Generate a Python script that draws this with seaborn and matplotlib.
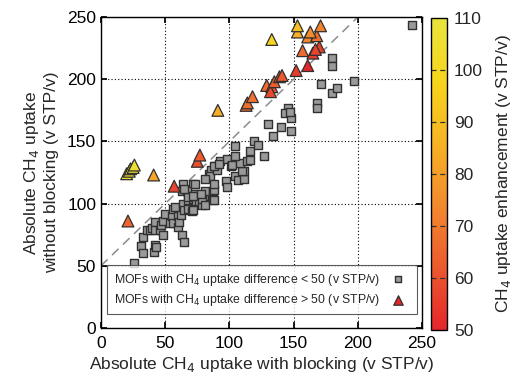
import numpy as np
import pandas as pd
import seaborn as sns
import matplotlib.pyplot as plt
from matplotlib.colors import LinearSegmentedColormap, Normalize
from matplotlib.cm import ScalarMappable

sns.set_theme(style="ticks")
plt.rcParams['font.family'] = ['Liberation Sans', 'DejaVu Sans']

# MOFs with uptake difference < 50 (squares)
sq_x = [26, 31, 33, 33, 36, 38, 40, 41, 42, 43, 42, 42, 46, 47, 48, 48, 50, 54, 55, 56,
        56, 58, 60, 60, 61, 62, 63, 65, 64, 65, 68, 71, 72, 68, 72, 74, 76, 80, 79, 80,
        79, 81, 87, 88, 64, 72, 63, 67, 73, 68, 72, 65, 81, 87, 88, 78, 73, 84, 86, 89,
        85, 88, 81, 93, 90, 88, 98, 92, 97, 98, 104, 107, 111, 111, 110, 101, 102, 108,
        114, 104, 104, 116, 119, 122, 127, 116, 130, 140, 134, 148, 146, 143, 148, 147,
        168, 168, 171, 180, 184, 197, 180, 180, 242]
sq_y = [52, 66, 60, 73, 79, 79, 80, 61, 67, 65, 85, 79, 79, 83, 75, 86, 92, 84, 90, 96,
        84, 97, 81, 90, 85, 91, 75, 69, 100, 95, 96, 94, 95, 103, 104, 102, 102, 100, 99, 106,
        104, 99, 103, 103, 116, 116, 110, 110, 108, 105, 106, 112, 110, 110, 111, 108, 116, 124, 127, 130,
        122, 116, 120, 134, 127, 130, 136, 132, 118, 113, 122, 119, 120, 126, 126, 130, 131, 133,
        134, 138, 146, 142, 150, 147, 138, 135, 164, 162, 154, 158, 177, 173, 169, 174,
        181, 177, 196, 189, 193, 199, 217, 211, 244]

# MOFs with uptake difference > 50 (triangles)
tri_x = [20, 22, 23, 25, 26, 41, 21, 57, 75, 77, 91, 113, 114, 118, 129, 133, 132, 135,
         139, 141, 152, 161, 157, 165, 170, 167, 161, 168, 163, 153, 153, 171, 133]
tri_y = [124, 126, 128, 129, 131, 123, 86, 114, 134, 139, 175, 179, 181, 186, 195, 194, 190, 198,
         202, 203, 207, 211, 223, 221, 226, 224, 234, 235, 238, 238, 243, 243, 232]

x_ticks = [0, 50, 100, 150, 200, 250]
y_ticks = [0, 50, 100, 150, 200, 250]
cbar_ticks = [50, 60, 70, 80, 90, 100, 110]
diag_x = [0, 200]

squares = pd.DataFrame({"x": sq_x, "y": sq_y})
tris = pd.DataFrame({"x": tri_x, "y": tri_y})
tris["enh"] = tris["y"] - tris["x"]

cmap = LinearSegmentedColormap.from_list(
    "enh", ["#e4262b", "#ec5a2e", "#f28a2e", "#f6b324", "#f7d51c", "#e8e43e"])
norm = Normalize(50, 110)

fig = plt.figure(figsize=(5.14, 3.80), dpi=100)
ax = fig.add_axes([0.1965, 0.137, 0.6245, 0.818])
cax = fig.add_axes([0.8385, 0.1316, 0.0311, 0.821])

ax.plot(diag_x, [v + 50 for v in diag_x], color="#8c8c8c", lw=1.1, ls=(0, (6, 4)), zorder=1)

sns.scatterplot(data=squares, x="x", y="y", marker="s", s=38, color="#9a9a9a",
                edgecolor="#303030", linewidth=1.0, ax=ax, zorder=3,
                label="MOFs with CH$_4$ uptake difference < 50 (v STP/v)")
sns.scatterplot(data=tris, x="x", y="y", hue="enh", palette=cmap, hue_norm=norm,
                marker="^", s=72, edgecolor="#303030", linewidth=0.9, ax=ax, zorder=4,
                legend=False)
ax.scatter([], [], marker="^", s=72, color="#e4262b", edgecolor="#303030", linewidth=0.9,
           label="MOFs with CH$_4$ uptake difference > 50 (v STP/v)")

ax.set_xlim(0, 250)
ax.set_ylim(0, 250)
ax.set_xticks(x_ticks)
ax.set_yticks(y_ticks)
ax.grid(True, color="black", ls=(0, (1, 2)), lw=0.8)
ax.tick_params(direction="in", top=True, right=True, length=4, labelsize=12.5, colors="black")
ax.tick_params(axis="x", pad=6)
for sp in ax.spines.values():
    sp.set_color("black")
    sp.set_linewidth(1.0)
ax.set_xlabel("Absolute CH$_4$ uptake with blocking (v STP/v)", fontsize=12.5, labelpad=3)
ax.set_ylabel("Absolute CH$_4$ uptake\nwithout blocking (v STP/v)", fontsize=12.5, labelpad=6)

leg = ax.legend(loc="lower right", bbox_to_anchor=(0.983, 0.045), markerfirst=False,
                fontsize=8.8, frameon=True, fancybox=False, edgecolor="#333333",
                handletextpad=0.5, borderpad=0.5, labelspacing=0.35, borderaxespad=0,
                markerscale=0.8)
leg.get_frame().set_linewidth(0.8)

sm = ScalarMappable(norm=norm, cmap=cmap)
cb = fig.colorbar(sm, cax=cax, ticks=cbar_ticks)
cb.outline.set_edgecolor("black")
cb.outline.set_linewidth(1.0)
cax.tick_params(direction="in", length=0, labelsize=12.5, pad=5)
for t in cbar_ticks[1:-1]:
    cax.axhline(t, color="#333333", lw=0.9, ls=(0, (4, 3)))
cb.set_label("CH$_4$ uptake enhancement (v STP/v)", fontsize=12.5, labelpad=8)

fig.savefig("out.png", dpi=100)
